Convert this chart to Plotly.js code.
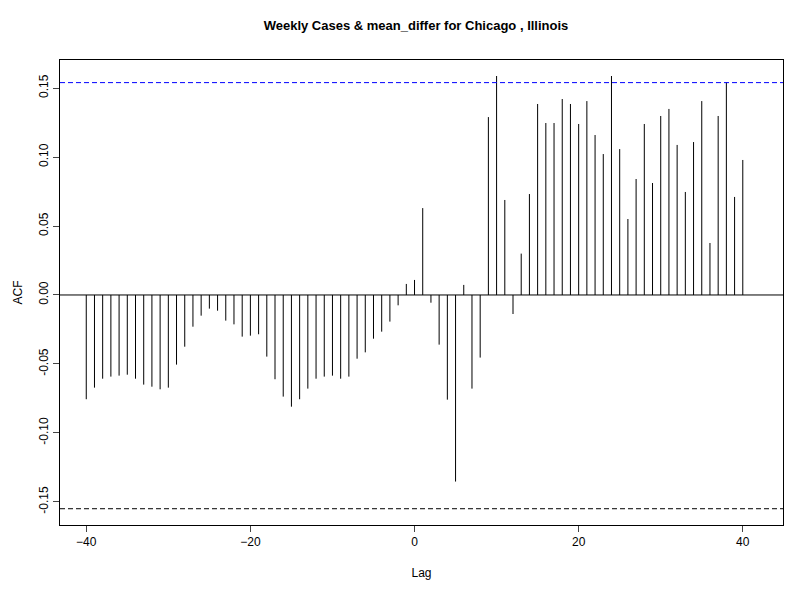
<!DOCTYPE html>
<html>
<head>
<script src="https://cdn.plot.ly/plotly-3.0.1.min.js"></script>
<style>body{margin:0}</style>
</head>
<body>
<div id="plot" style="width:800px;height:600px"></div>
<script>
// cross-correlation values, lag -40 .. 40
const lags = [];
for (let k = -40; k <= 40; k++) lags.push(k);
const acf = [
  -0.0756, -0.0672, -0.0607, -0.0592, -0.0585, -0.0578, -0.0607, -0.065, -0.0665, -0.0684,
  -0.0672, -0.0505, -0.0375, -0.023, -0.015, -0.0099, -0.0114, -0.0186, -0.0213, -0.0302,
  -0.0295, -0.0285, -0.0447, -0.0611, -0.0737, -0.081, -0.0756, -0.0679, -0.0607, -0.0592,
  -0.0585, -0.0607, -0.0592, -0.0462, -0.0416, -0.0317, -0.0266, -0.0193, -0.0075, 0.008,
  0.0109,
  0.063, -0.0056, -0.036, -0.0759, -0.1353, 0.0073, -0.0679, -0.0454, 0.129, 0.1588,
  0.0689, -0.0138, 0.030, 0.0732, 0.1385, 0.1247, 0.1247, 0.1421, 0.1385, 0.124,
  0.1406, 0.116, 0.1022, 0.1588, 0.1058, 0.0551, 0.0841, 0.124, 0.0812, 0.1298,
  0.1349, 0.1088, 0.0747, 0.1109, 0.1406, 0.0377, 0.1298, 0.1542, 0.0711, 0.0979
];
const ciUpper = 0.154;
const ciLower = -0.155;
const yTicks = [-0.15, -0.10, -0.05, 0.00, 0.05, 0.10, 0.15];
const yTickText = ['-0.15', '-0.10', '-0.05', '0.00', '0.05', '0.10', '0.15'];
const xTicks = [-40, -20, 0, 20, 40];

const sx = [], sy = [];
lags.forEach((l, i) => { sx.push(l, l, null); sy.push(0, acf[i], null); });

const traces = [
  { x: sx, y: sy, type: 'scatter', mode: 'lines', line: { color: 'black', width: 1 }, hoverinfo: 'skip' },
  { x: [-43.2, 44.9], y: [0, 0], type: 'scatter', mode: 'lines', line: { color: 'black', width: 1 } },
  { x: [-43.2, 44.9], y: [ciUpper, ciUpper], type: 'scatter', mode: 'lines', line: { color: 'blue', width: 1, dash: '5px,3px' } },
  { x: [-43.2, 44.9], y: [ciLower, ciLower], type: 'scatter', mode: 'lines', line: { color: 'black', width: 1, dash: '5px,3px' } }
];

const axisFont = { family: 'Liberation Sans, Arial', size: 12, color: 'black' };
const layout = {
  width: 800, height: 600,
  showlegend: false,
  plot_bgcolor: 'white', paper_bgcolor: 'white',
  margin: { l: 60, r: 17, t: 60, b: 75 },
  title: { text: '<b>Weekly Cases & mean_differ for Chicago , Illinois</b>', x: 0.52, y: 0.965,
    font: { family: 'Liberation Sans, Arial', size: 13, color: 'black' } },
  xaxis: {
    range: [-43.2, 44.9], tickvals: xTicks, ticks: 'outside', ticklen: 6,
    showgrid: false, zeroline: false, showline: true, mirror: true, linecolor: 'black', linewidth: 1,
    tickfont: axisFont, title: { text: 'Lag', font: axisFont, standoff: 20 }
  },
  yaxis: {
    range: [-0.1668, 0.1704], tickvals: yTicks, ticktext: yTickText, tickangle: -90,
    ticks: 'outside', ticklen: 6,
    showgrid: false, zeroline: false, showline: true, mirror: true, linecolor: 'black', linewidth: 1,
    tickfont: axisFont, title: { text: 'ACF', font: axisFont, standoff: 12 }
  }
};

Plotly.newPlot('plot', traces, layout, { staticPlot: true });
</script>
</body>
</html>
